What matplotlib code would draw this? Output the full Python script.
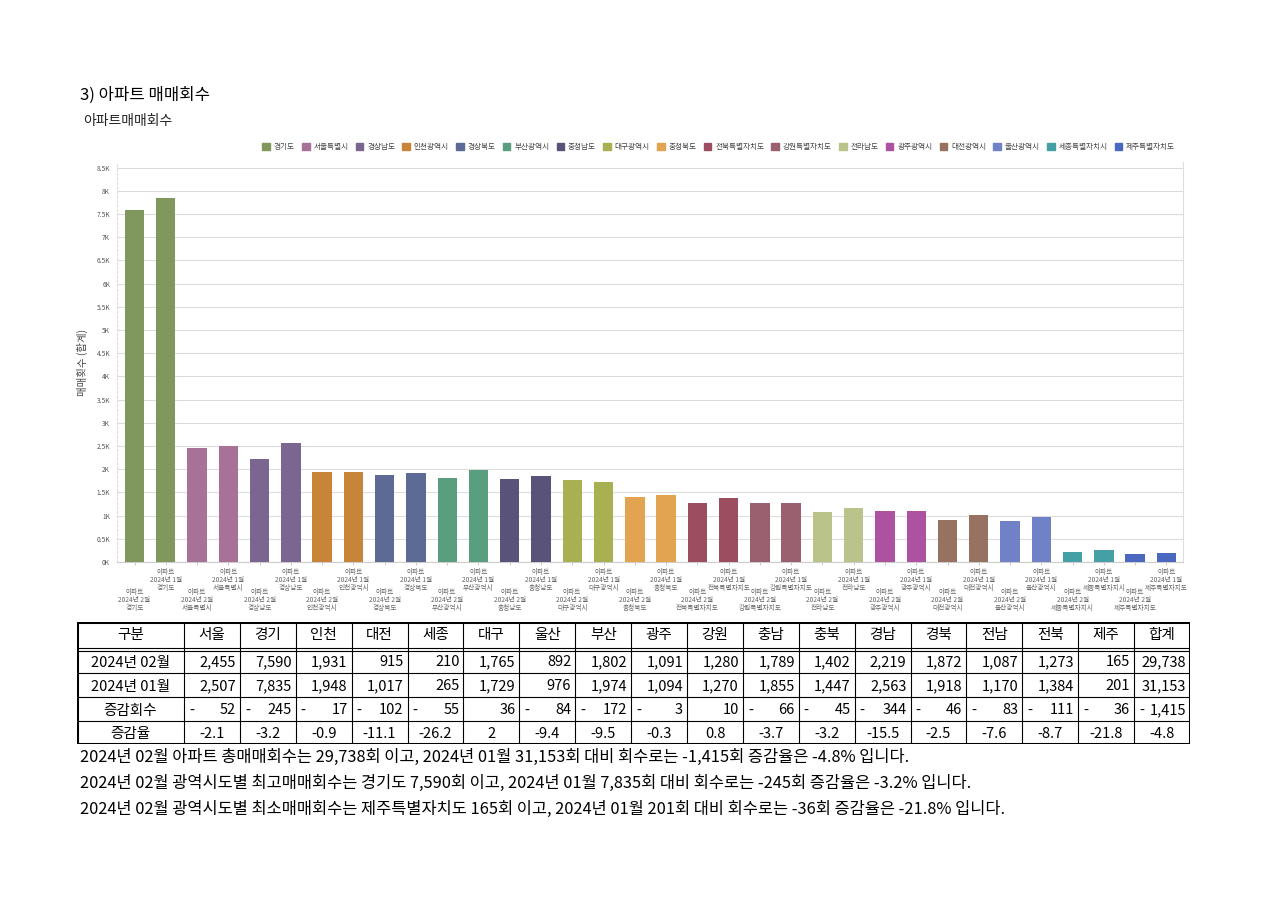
import matplotlib
matplotlib.use('Agg')
import matplotlib.pyplot as plt
from matplotlib.patches import Patch
from matplotlib.ticker import FuncFormatter
import numpy as np

plt.rcParams['font.family'] = ['Noto Sans CJK KR', 'DejaVu Sans']

# table data (short names)
short_names = ['서울', '경기', '인천', '대전', '세종', '대구', '울산', '부산', '광주',
               '강원', '충남', '충북', '경남', '경북', '전남', '전북', '제주']
feb = [2455, 7590, 1931, 915, 210, 1765, 892, 1802, 1091, 1280, 1789, 1402, 2219, 1872, 1087, 1273, 165]
jan = [2507, 7835, 1948, 1017, 265, 1729, 976, 1974, 1094, 1270, 1855, 1447, 2563, 1918, 1170, 1384, 201]
rates = [-2.1, -3.2, -0.9, -11.1, -26.2, 2, -9.4, -9.5, -0.3, 0.8, -3.7, -3.2, -15.5, -2.5, -7.6, -8.7, -21.8]
total_rate = -4.8

# chart order
chart_regions = ['경기도', '서울특별시', '경상남도', '인천광역시', '경상북도', '부산광역시', '충청남도',
                 '대구광역시', '충청북도', '전북특별자치도', '강원특별자치도', '전라남도', '광주광역시',
                 '대전광역시', '울산광역시', '세종특별자치시', '제주특별자치도']
chart_short = ['경기', '서울', '경남', '인천', '경북', '부산', '충남', '대구', '충북',
               '전북', '강원', '전남', '광주', '대전', '울산', '세종', '제주']
colors = ['#80985e', '#a87198', '#7a6690', '#c8853a', '#5c6a95', '#5a9e80', '#5a5379',
          '#a8b052', '#e3a452', '#9c4d60', '#9a6070', '#bac48a', '#ad52a0', '#977260',
          '#7081c8', '#45a0a5', '#4a68bf']

lookup_feb = dict(zip(short_names, feb))
lookup_jan = dict(zip(short_names, jan))

fig = plt.figure(figsize=(12.78, 9.01), dpi=100)
W, H = 1278, 901

fig.text(80 / W, 1 - 95 / H, '3) 아파트 매매회수', fontsize=12, va='center', ha='left')
fig.text(83 / W, 1 - 121 / H, '아파트매매회수', fontsize=10, va='center', ha='left', color='#222222')

ax = fig.add_axes([117 / W, 1 - 562 / H, (1183 - 117) / W, (562 - 162) / H])
xs, hs, cs, labels = [], [], [], []
for i, (reg, sh) in enumerate(zip(chart_regions, chart_short)):
    xs += [2 * i, 2 * i + 1]
    hs += [lookup_feb[sh], lookup_jan[sh]]
    cs += [colors[i], colors[i]]
    labels += ['아파트\n2024년 2월\n' + reg, '아파트\n2024년 1월\n' + reg]
ax.bar(xs, hs, width=0.62, color=cs, zorder=3)
ax.set_xlim(-0.56, len(xs) - 1 + 0.53)
ax.set_ylim(0, 8620)
ax.set_yticks(np.arange(0, 8501, 500))
ax.yaxis.set_major_formatter(FuncFormatter(lambda v, p: '%gK' % (v / 1000)))
ax.tick_params(axis='y', labelsize=4.8, labelcolor='#555555', length=0, pad=5)
ax.grid(axis='y', color='#dcdcdc', lw=0.8, zorder=0)
ax.set_xticks(xs)
ax.set_xticklabels(labels, fontsize=4.8, color='#666666', linespacing=0.95)
ax.tick_params(axis='x', length=2, color='#cccccc')
for j, tick in enumerate(ax.xaxis.get_major_ticks()):
    tick.set_pad(17 if j % 2 == 0 else 2.5)
ax.spines['top'].set_visible(False)
ax.spines['right'].set_color('#dddddd')
ax.spines['bottom'].set_color('#cccccc')
ax.spines['left'].set_color('#dddddd')
ax.spines['left'].set_linestyle((0, (2, 2)))
ax.set_ylabel('매매횟수 (합계)', fontsize=7.5, color='#444444', labelpad=6)

handles = [Patch(color=c, label=r) for c, r in zip(colors, chart_regions)]
fig.legend(handles=handles, loc='center right', bbox_to_anchor=(1182 / W, 1 - 147 / H),
           ncol=len(handles), frameon=False, fontsize=5.5, handlelength=1.0, handleheight=1.0,
           handletextpad=0.5, columnspacing=0.95, labelcolor='#444444')

# table
tx0, tx1, ty0, ty1 = 77, 1190, 622, 744
tax = fig.add_axes([tx0 / W, 1 - ty1 / H, (tx1 - tx0) / W, (ty1 - ty0) / H])
tax.set_xlim(0, tx1 - tx0)
tax.set_ylim(ty1 - ty0, 0)
tax.axis('off')
first_w = 107
ncol = len(short_names) + 1
cw = (tx1 - tx0 - first_w) / ncol
row_y = [0, 27, 51, 75, 99, 122]
for y in row_y[2:-1]:
    tax.plot([0, tx1 - tx0], [y, y], color='black', lw=0.8)
tax.plot([0, tx1 - tx0], [26, 26], color='black', lw=0.8)
tax.plot([0, tx1 - tx0], [29, 29], color='black', lw=0.8)
for k in range(ncol):
    x = first_w + k * cw
    tax.plot([x, x], [0, 122], color='black', lw=0.8)
tax.add_patch(plt.Rectangle((0, 0), tx1 - tx0, 122, fill=False, ec='black', lw=2.2))

fs = 10.5
feb_total = sum(feb)
jan_total = sum(jan)
heads = short_names + ['합계']
rows = [('2024년 02월', feb + [feb_total]), ('2024년 01월', jan + [jan_total])]
diffs = [f - j for f, j in zip(feb, jan)] + [feb_total - jan_total]
cy = [(row_y[r] + row_y[r + 1]) / 2 + (1.5 if r > 0 else 0) for r in range(5)]
tax.text(first_w / 2, cy[0], '구분', ha='center', va='center', fontsize=fs)
for k, h in enumerate(heads):
    tax.text(first_w + (k + 0.5) * cw, cy[0], h, ha='center', va='center', fontsize=fs)
for r, (name, vals) in enumerate(rows):
    tax.text(first_w / 2, cy[r + 1], name, ha='center', va='center', fontsize=fs)
    for k, v in enumerate(vals):
        tax.text(first_w + (k + 1) * cw - 4, cy[r + 1], f'{v:,}', ha='right', va='center', fontsize=fs)
tax.text(first_w / 2, cy[3], '증감회수', ha='center', va='center', fontsize=fs)
for k, d in enumerate(diffs):
    if d < 0:
        tax.text(first_w + k * cw + 5, cy[3], '-', ha='left', va='center', fontsize=fs)
    tax.text(first_w + (k + 1) * cw - 4, cy[3], f'{abs(d):,}', ha='right', va='center', fontsize=fs)
tax.text(first_w / 2, cy[4], '증감율', ha='center', va='center', fontsize=fs)
for k, v in enumerate(rates + [total_rate]):
    tax.text(first_w + (k + 0.5) * cw, cy[4], f'{v:g}', ha='center', va='center', fontsize=fs)

# summary sentences
max_i = int(np.argmax(feb))
min_i = int(np.argmin(feb))
full = dict(zip(chart_short, chart_regions))
lines = [
    f'2024년 02월 아파트 총매매회수는 {feb_total:,}회 이고, 2024년 01월 {jan_total:,}회 대비 회수로는 '
    f'{feb_total - jan_total:,}회 증감율은 {total_rate}% 입니다.',
    f'2024년 02월 광역시도별 최고매매회수는 {full[short_names[max_i]]} {feb[max_i]:,}회 이고, 2024년 01월 '
    f'{jan[max_i]:,}회 대비 회수로는 {feb[max_i] - jan[max_i]:,}회 증감율은 {rates[max_i]}% 입니다.',
    f'2024년 02월 광역시도별 최소매매회수는 {full[short_names[min_i]]} {feb[min_i]:,}회 이고, 2024년 01월 '
    f'{jan[min_i]:,}회 대비 회수로는 {feb[min_i] - jan[min_i]:,}회 증감율은 {rates[min_i]}% 입니다.',
]
for i, t in enumerate(lines):
    fig.text(80 / W, 1 - (757 + 26 * i) / H, t, fontsize=11.8, va='center', ha='left')

fig.savefig('out.png', dpi=100, facecolor='white')
